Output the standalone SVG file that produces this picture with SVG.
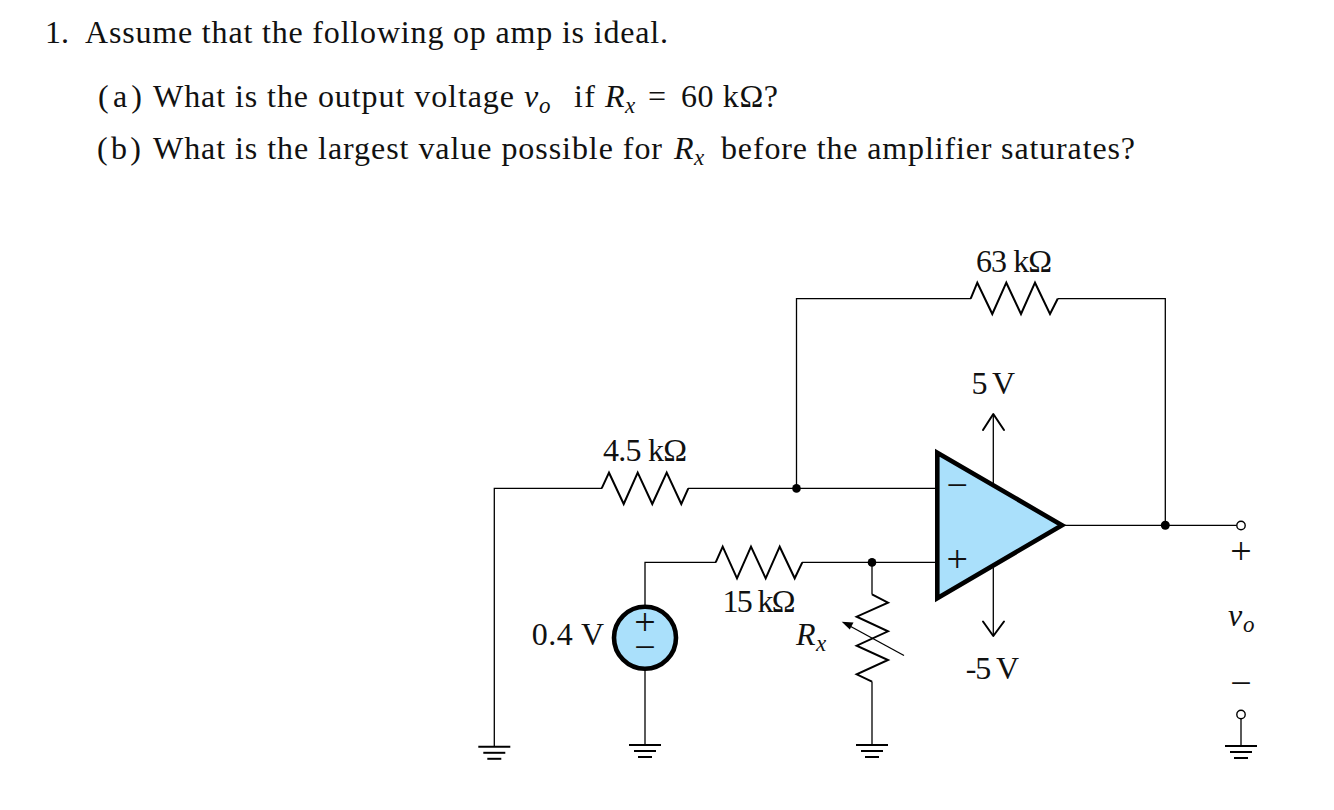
<svg xmlns="http://www.w3.org/2000/svg" xmlns:xlink="http://www.w3.org/1999/xlink" width="1334" height="810" viewBox="0 0 1334 810">
<style>
text{font-family:"Liberation Serif","Times New Roman",serif;fill:#111}
.q{font-size:32px}
.l{font-size:32px}
.i{font-style:italic}
.s{font-size:23px;font-style:italic}
.sym{font-size:38px;text-anchor:middle}
.w{fill:none;stroke:#000;stroke-width:1.3}
.z{fill:none;stroke:#000;stroke-width:2;stroke-linejoin:miter}
.t{fill:none;stroke:#000;stroke-width:2;stroke-linecap:round;stroke-linejoin:round}
.g{fill:none;stroke:#000}
.d{fill:#000}
.o{fill:#fff;stroke:#000;stroke-width:1.4}
.c{fill:#aae0fb;stroke:#000;stroke-width:4.6}
</style>
<defs>
<g id="gnd" class="g">
<path d="M-16 0H16" stroke-width="2"/>
<path d="M-11 6H11" stroke-width="2"/>
<path d="M-7 12H7" stroke-width="2"/>
</g>
</defs>
<g id="question">
<text class="q" x="45" y="43">1.</text>
<text class="q" x="85" y="43" textLength="583">Assume that the following op amp is ideal.</text>
<text class="q" x="98" y="107" textLength="44">(a)</text>
<text class="q" x="153" y="107" textLength="361">What is the output voltage</text>
<text class="q i" x="524" y="107">v</text>
<text class="s" x="539" y="113">o</text>
<text class="q" x="574" y="107" textLength="21">if</text>
<text class="q i" x="605" y="107">R</text>
<text class="s" x="625" y="113">x</text>
<text class="q" x="648" y="107">=</text>
<text class="q" x="681" y="107" textLength="97">60 kΩ?</text>
<text class="q" x="97" y="159" textLength="44">(b)</text>
<text class="q" x="153" y="159" textLength="509">What is the largest value possible for</text>
<text class="q i" x="674" y="159">R</text>
<text class="s" x="694" y="165">x</text>
<text class="q" x="721" y="159" textLength="414">before the amplifier saturates?</text>
</g>
<g id="connectors">
<path class="w" d="M494.3 746V488.4H602"/>
<path class="w" d="M688 488.4H937"/>
<path class="w" d="M796.5 488.4V298.7H971"/>
<path class="w" d="M1057.5 298.7H1165.3V525.3"/>
<path class="w" d="M1063 525.3H1237"/>
<path class="w" d="M645 607V562.4H716"/>
<path class="w" d="M802 562.4H937"/>
<path class="w" d="M872 562.4V594.5"/>
<path class="w" d="M872 681.5V745"/>
<path class="w" d="M645 669V745"/>
<path class="w" d="M1241 718V746"/>
<path class="w" d="M993.3 414V483"/>
<path class="w" d="M993.3 568V636"/>
<path class="t" d="M983 430L993.3 414L1004 430"/>
<path class="t" d="M983 621.5L993.3 636L1004 621.5"/>
</g>
<g id="opamp"><path class="c" d="M937.3 452.7L1062 525.3L937.3 598.2Z"/>
<text class="sym" x="957.3" y="498">−</text>
<text class="sym" x="957.3" y="572">+</text></g>
<g id="r-45k"><path class="z" d="M601.7 488.4L609 472.7L623.7 504L637.7 472.7L652.3 504L666.7 472.7L681.3 504L688.3 488.4"/>
<text class="l" x="603" y="461" textLength="84">4.5 kΩ</text></g>
<g id="r-15k"><path class="z" d="M715.7 562.4L722.7 546.7L737 578.3L751 546.7L765.7 578.3L779.7 546.7L794.7 578.3L802.3 562.4"/>
<text class="l" x="722.5" y="612" textLength="73">15 kΩ</text></g>
<g id="r-63k"><path class="z" d="M970.7 298.7L977.3 282.7L992.3 314L1006.3 282.7L1021 314L1035 282.7L1050 314L1057.7 298.7"/>
<text class="l" x="976" y="272" textLength="76">63 kΩ</text></g>
<g id="r-x"><path class="z" d="M872 594.3L888 602.7L856.7 616.7L888 631.3L856.7 645.7L888 660L856.7 674.3L872 681.7"/>
<path class="w" stroke-width="1.8" d="M904 655.5L848 625"/>
<path class="d" d="M841.7 621.7L853.5 622.5L849.8 629.5Z"/>
<text class="q i" x="796" y="645">R</text>
<text class="s" x="816" y="651">x</text></g>
<g id="source"><circle class="c" cx="645" cy="637.7" r="31"/>
<text class="sym" x="645" y="635">+</text>
<text class="sym" x="645" y="660">−</text>
<text class="l" x="531.7" y="645" textLength="72.5">0.4 V</text></g>
<g id="supply-pos"><text class="l" x="971.5" y="394" textLength="43.5">5 V</text></g>
<g id="supply-neg"><text class="l" x="965.7" y="679" textLength="53.5">-5 V</text></g>
<g id="junctions">
<circle class="d" cx="796.5" cy="488.4" r="4.3"/>
<circle class="d" cx="872" cy="562.4" r="4.3"/>
<circle class="d" cx="1165.3" cy="525.3" r="4.5"/>
</g>
<g id="output">
<circle class="o" cx="1241" cy="525.5" r="4.2"/>
<circle class="o" cx="1241" cy="714.5" r="4.2"/>
<text class="sym" x="1241" y="564">+</text>
<text class="q i" x="1228" y="626">v</text>
<text class="s" x="1243" y="632">o</text>
<text class="sym" x="1241" y="696">−</text>
</g>
<g id="grounds">
<use href="#gnd" x="494.3" y="746.8"/>
<use href="#gnd" x="645" y="745"/>
<use href="#gnd" x="872" y="745"/>
<use href="#gnd" x="1241" y="746"/>
</g>
</svg>
